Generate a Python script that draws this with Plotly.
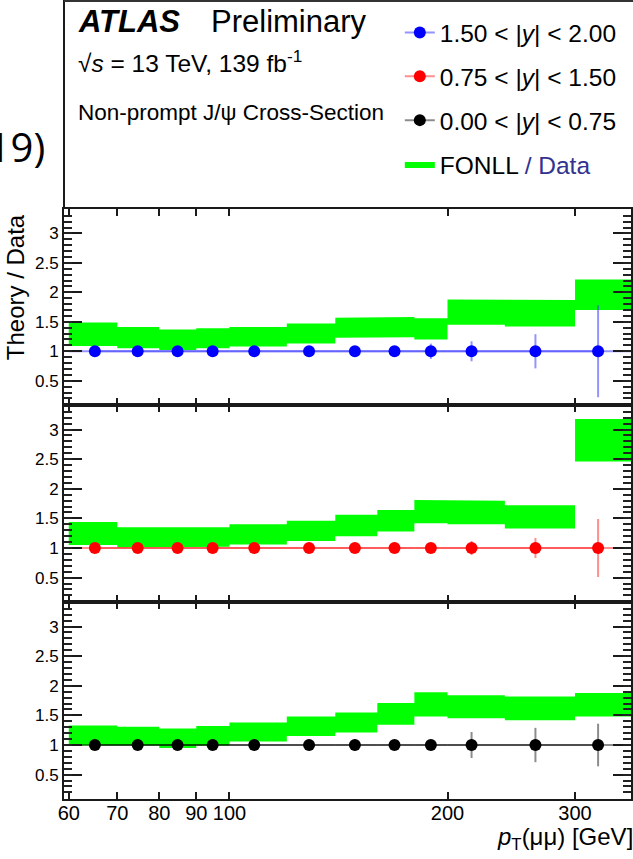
import math
import plotly.graph_objects as go

# ---------------- data ----------------
bin_edges = [60, 70, 80, 90, 100, 120, 140, 160, 180, 200, 240, 300, 360]
pt_mean = [65.2, 74.7, 84.8, 94.8, 108.2, 128.8, 149.0, 169.0, 189.7, 215.9, 264.5, 322.8]

ratio_y15 = [1.0, 1.0, 1.0, 1.0, 1.0, 1.0, 1.0, 1.0, 1.0, 1.0, 1.0, 1.0]
ratio_y075 = [1.0, 1.0, 1.0, 1.0, 1.0, 1.0, 1.0, 1.0, 1.0, 1.0, 1.0, 1.0]
ratio_y0 = [1.0, 1.0, 1.0, 1.0, 1.0, 1.0, 1.0, 1.0, 1.0, 1.0, 1.0, 1.0]

err_y15 = [0.03, 0.03, 0.03, 0.03, 0.04, 0.04, 0.06, 0.08, 0.13, 0.17, 0.29, 0.78]
err_y075 = [0.03, 0.03, 0.03, 0.03, 0.03, 0.04, 0.05, 0.06, 0.07, 0.12, 0.17, 0.49]
err_y0 = [0.03, 0.03, 0.03, 0.03, 0.03, 0.04, 0.10, 0.06, 0.07, 0.22, 0.29, 0.36]

fonll_hi_y15 = [1.49, 1.41, 1.37, 1.39, 1.41, 1.47, 1.57, 1.58, 1.56, 1.88, 1.87, 2.22]
fonll_lo_y15 = [1.09, 1.05, 1.02, 1.05, 1.08, 1.13, 1.23, 1.24, 1.20, 1.45, 1.42, 1.70]
fonll_hi_y075 = [1.44, 1.35, 1.36, 1.35, 1.40, 1.46, 1.56, 1.64, 1.81, 1.80, 1.72, 3.18]
fonll_lo_y075 = [1.05, 1.01, 1.01, 1.02, 1.06, 1.12, 1.20, 1.28, 1.42, 1.40, 1.33, 2.46]
fonll_hi_y0 = [1.33, 1.31, 1.28, 1.32, 1.38, 1.48, 1.55, 1.71, 1.89, 1.84, 1.82, 1.88]
fonll_lo_y0 = [0.99, 0.99, 0.95, 0.99, 1.06, 1.15, 1.21, 1.34, 1.48, 1.45, 1.42, 1.48]

labels = ["1.50 < |<i>y</i>| < 2.00", "0.75 < |<i>y</i>| < 1.50", "0.00 < |<i>y</i>| < 0.75"]
x_tick_vals = [60, 70, 80, 90, 100, 200, 300]
x_tick_text = ["60", "70", "80", "90", "100", "200", "300"]

# ---------------- layout helpers ----------------
W, H = 633, 859
ML, MB, MT = 64, 60, 0
PW, PH = W - ML, H - MB - MT


def px(xp):
    return (xp - ML) / PW


def py(yp):
    return (H - MB - yp) / PH


FONT = "Liberation Sans, Arial, sans-serif"
GREEN = "rgb(0,255,0)"
AXC = "#1a1a1a"

panels = [
    dict(hi=fonll_hi_y15, lo=fonll_lo_y15, r=ratio_y15, e=err_y15, col="#0000ff",
         light="rgba(60,60,255,0.55)", name=labels[0], ax="", top=209, bot=405, rank=1),
    dict(hi=fonll_hi_y075, lo=fonll_lo_y075, r=ratio_y075, e=err_y075, col="#ff0000",
         light="rgba(255,50,50,0.55)", name=labels[1], ax="2", top=405, bot=602, rank=2),
    dict(hi=fonll_hi_y0, lo=fonll_lo_y0, r=ratio_y0, e=err_y0, col="#000000",
         light="rgba(0,0,0,0.45)", name=labels[2], ax="3", top=602, bot=799, rank=3),
]

fig = go.Figure()

# green FONLL bands
for i, p in enumerate(panels):
    xs, ys = [], []
    for lo, hi, v in zip(bin_edges[:-1], bin_edges[1:], p["hi"]):
        xs += [lo, hi]
        ys += [v, v]
    for lo, hi, v in reversed(list(zip(bin_edges[:-1], bin_edges[1:], p["lo"]))):
        xs += [hi, lo]
        ys += [v, v]
    xs.append(xs[0])
    ys.append(ys[0])
    fig.add_trace(go.Scatter(
        x=xs, y=ys, mode="lines", fill="toself", fillcolor=GREEN,
        line=dict(width=0, color="rgba(0,0,0,0)"),
        name='FONLL <span style="color:#33338f">/ Data</span>',
        showlegend=(i == 0), legendrank=4, legendgroup="fonll",
        xaxis="x" + p["ax"], yaxis="y" + p["ax"], hoverinfo="skip"))

# data points
for p in panels:
    plus = [hi - x for x, hi in zip(pt_mean, bin_edges[1:])]
    minus = [x - lo for x, lo in zip(pt_mean, bin_edges[:-1])]
    fig.add_trace(go.Scatter(
        x=pt_mean, y=p["r"], mode="lines+markers",
        line=dict(color=p["light"], width=2),
        marker=dict(color=p["col"], size=12, symbol="circle"),
        error_x=dict(type="data", symmetric=False, array=plus, arrayminus=minus,
                     color=p["light"], thickness=2, width=0),
        error_y=dict(type="data", array=p["e"], color=p["light"], thickness=2, width=0),
        name=p["name"], legendrank=p["rank"], legendgroup="g" + str(p["rank"]),
        xaxis="x" + p["ax"], yaxis="y" + p["ax"]))

xr = [math.log10(59.1), math.log10(358.4)]
yr = [0.088, 3.415]

layout = dict(
    width=W, height=H, margin=dict(l=ML, r=0, t=MT, b=MB),
    plot_bgcolor="white", paper_bgcolor="white",
    font=dict(family=FONT, color="black"),
    showlegend=True,
    legend=dict(x=px(401), y=py(10), xanchor="left", yanchor="top",
                font=dict(size=24.5, family=FONT, color="black"),
                bgcolor="rgba(0,0,0,0)", tracegroupgap=9, itemwidth=30),
)

n_axis = 4
for p in panels:
    ax = p["ax"]
    dom = [py(p["bot"]), py(p["top"])]
    layout["xaxis" + ax] = dict(
        type="log", range=xr, domain=[0, 1], anchor="y" + ax,
        showgrid=False, zeroline=False, showline=True, linecolor=AXC, linewidth=2,
        mirror="ticks", ticks="inside", ticklen=7, tickwidth=1.5, tickcolor=AXC,
        tickmode="array", tickvals=x_tick_vals, ticktext=x_tick_text,
        showticklabels=(ax == "3"), tickfont=dict(size=20, family=FONT, color="black"),
        ticklabelstandoff=-5,
        matches=None if ax == "" else "x")
    layout["yaxis" + ax] = dict(
        range=yr, domain=dom, anchor="x" + ax,
        showgrid=False, zeroline=False, showline=True, linecolor=AXC, linewidth=2,
        mirror="ticks", ticks="inside", ticklen=18, tickwidth=2, tickcolor=AXC,
        dtick=0.5, tickfont=dict(size=17, family=FONT, color="black"))
    # fine ticks every 0.1, split over two interleaved overlay axes per side
    for side in ("left", "right"):
        for t0 in (0.0, 0.1):
            name = str(n_axis)
            layout["yaxis" + name] = dict(
                range=yr, overlaying="y" + ax, anchor="x" + ax, side=side,
                showgrid=False, zeroline=False, showline=False,
                ticks="inside", ticklen=8, tickwidth=1.5, tickcolor="#222222",
                tickmode="linear", tick0=t0, dtick=0.2, showticklabels=False)
            fig.add_trace(go.Scatter(x=[None], y=[None], mode="markers", showlegend=False,
                                     hoverinfo="skip", xaxis="x" + ax, yaxis="y" + name))
            n_axis += 1

fig.update_layout(**layout)

# frame of the top (legend) pad
fig.add_shape(type="line", xref="paper", yref="paper", x0=0, x1=0, y0=py(209), y1=1,
              line=dict(color=AXC, width=2))
fig.add_shape(type="line", xref="paper", yref="paper", x0=0, x1=1.01, y0=py(1), y1=py(1),
              line=dict(color="#333333", width=2))

ann = [
    dict(text="<b><i>ATLAS</i></b>", x=px(76), y=py(21.5), size=31, xa="left"),
    dict(text="Preliminary", x=px(210), y=py(21.5), size=31, xa="left"),
    dict(text="√<i>s</i> = 13 TeV, 139 fb<sup>-1</sup>", x=px(76), y=py(61), size=24.5, xa="left"),
    dict(text="Non-prompt J/ψ Cross-Section", x=px(76), y=py(112), size=22.5, xa="left"),
]
for a in ann:
    fig.add_annotation(text=a["text"], x=a["x"], y=a["y"], xref="paper", yref="paper",
                       xanchor=a["xa"], yanchor="middle", showarrow=False,
                       font=dict(size=a["size"], family=FONT, color="black"))

fig.add_annotation(text="Theory / Data", textangle=-90, x=px(15), y=py(287),
                   xref="paper", yref="paper", xanchor="center", yanchor="middle",
                   showarrow=False, font=dict(size=24, family=FONT, color="black"))
fig.add_annotation(text="<i>p</i><sub>T</sub>(μμ) [GeV]", x=px(637), y=py(839),
                   xref="paper", yref="paper", xanchor="right", yanchor="middle",
                   showarrow=False, font=dict(size=24, family=FONT, color="black"))
fig.add_annotation(text="2019)", x=px(47), y=py(146), xref="paper", yref="paper",
                   xanchor="right", yanchor="middle", showarrow=False,
                   font=dict(size=40, family="Open Sans, sans-serif", color="black"))

fig.write_html("out.html")
